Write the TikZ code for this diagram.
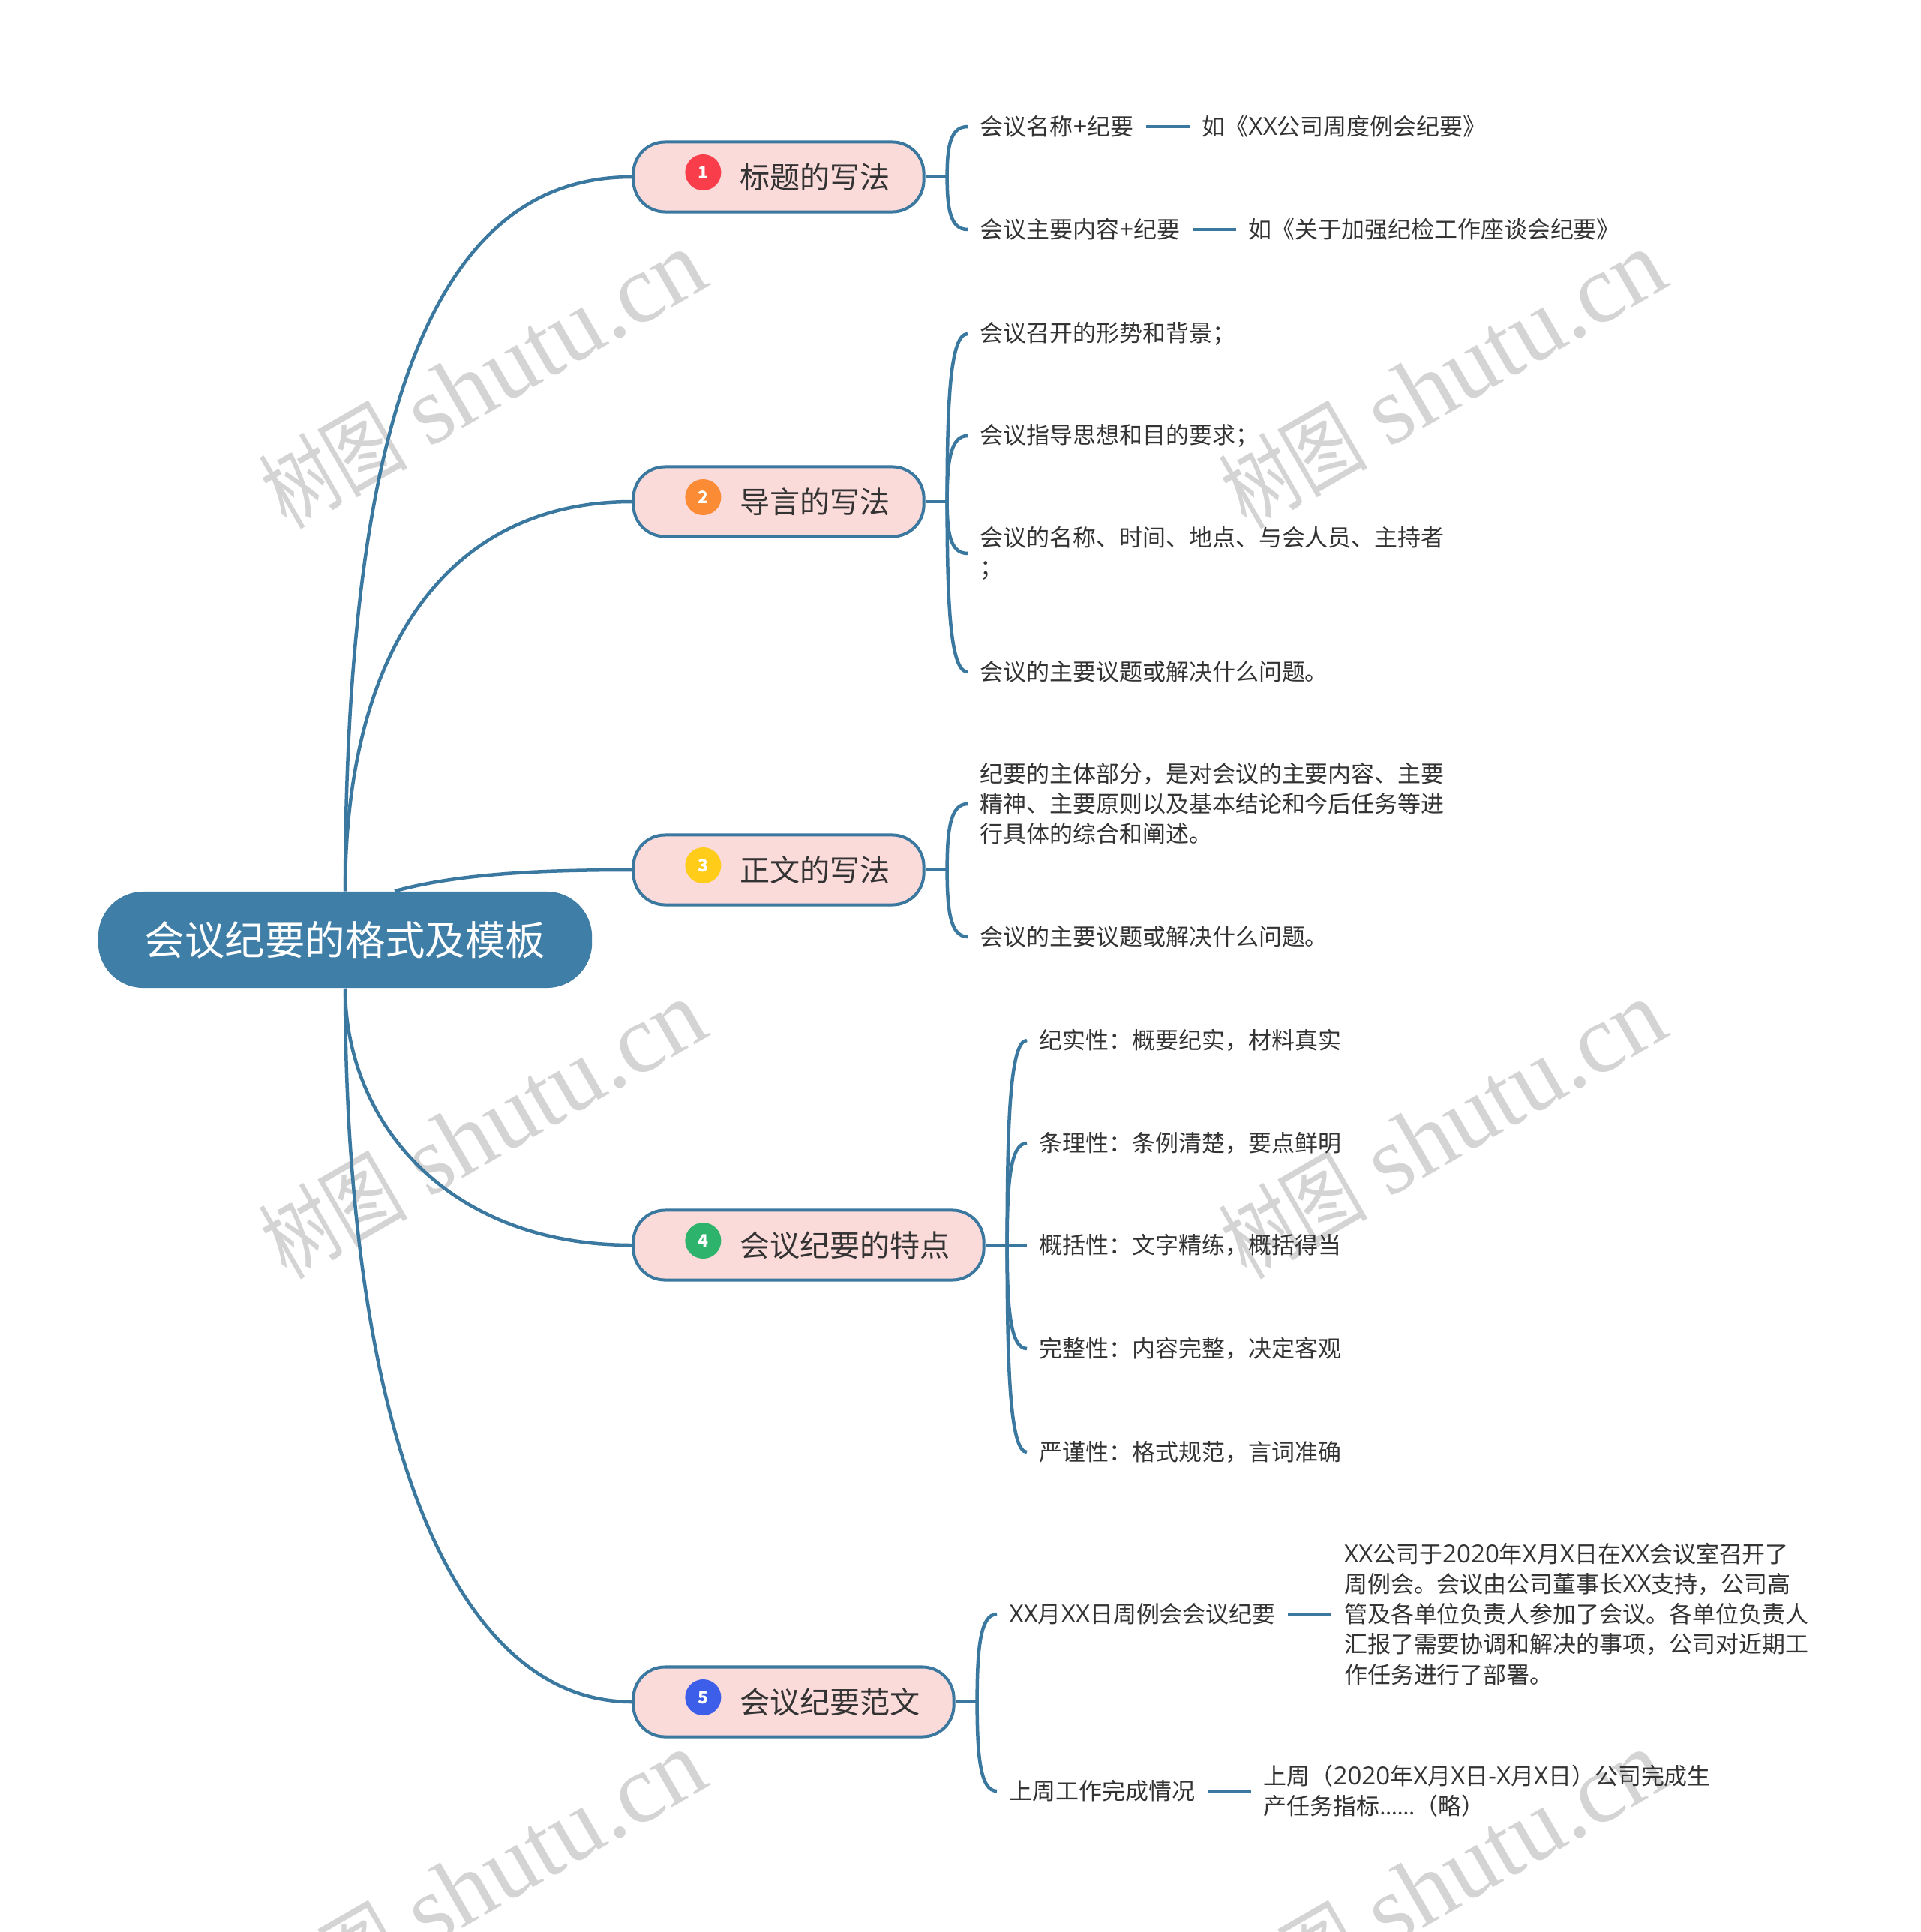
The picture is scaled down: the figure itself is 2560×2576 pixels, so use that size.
\documentclass[tikz,border=0pt]{standalone}
\usepackage{fontspec}
\usepackage{xcolor}
\usetikzlibrary{positioning,calc}
\setmainfont{Noto Sans CJK SC}
\newfontfamily\wmfont{Liberation Serif}
\newfontfamily\latf[Scale=1.07]{Open Sans}
\newfontfamily\dotf{Carlito}
\newcommand{\lat}[1]{{\latf #1}}
\definecolor{linkblue}{HTML}{3B789F}
\definecolor{rootblue}{HTML}{3F7EA6}
\definecolor{pink}{HTML}{FBDADA}
\definecolor{ink}{HTML}{333333}

\begin{document}
\begin{tikzpicture}[
  x=0.01cm, y=-0.01cm,
  root/.style={fill=rootblue, rounded corners=0.6cm, minimum width=6.58cm, minimum height=1.28cm,
               text=white, font=\fontsize{15.2pt}{20pt}\selectfont},
  branch/.style={draw=linkblue, fill=pink, line width=0.04cm, rounded corners=0.42cm, minimum height=0.93cm},
  btext/.style={inner sep=0pt, text=ink, font=\fontsize{11.4pt}{14pt}\selectfont},
  badge/.style={circle, minimum size=0.48cm, inner sep=0pt, text=white, font=\fontsize{6.5pt}{7pt}\selectfont\bfseries},
  leaf/.style={inner xsep=0.16cm, inner ysep=0pt, align=left, text=ink, font=\fontsize{8.8pt}{11.4pt}\selectfont},
  link/.style={draw=linkblue, line width=0.045cm},
  bracket/.style={to path={.. controls ($(\tikztostart)!0.6!(\tikztostart |- \tikztotarget)$)
                  and ($(\tikztostart |- \tikztotarget)!0.15!(\tikztotarget)$) .. (\tikztotarget)}},
  wmark/.style={rotate=30, text=black!17, font=\fontsize{37pt}{40pt}\selectfont}
]
  \clip (0,0) rectangle (2560,2576);

  % watermark
  \foreach \wx in {644,1924}
    \foreach \wy in {503,1503,2503}
      \node[wmark] (wm\wx\wy) at (\wx,\wy) {\scalebox{0.72}[0.92]{树图} {\wmfont shutu.cn}};

  \node[root] (root) at (460,1253) {会议纪要的格式及模板};

  \node[branch, minimum width=3.87cm] (b1) at (1038,236)  {};
  \node[branch, minimum width=3.87cm] (b2) at (1038,669)  {};
  \node[branch, minimum width=3.87cm] (b3) at (1038,1160) {};
  \node[branch, minimum width=4.67cm] (b4) at (1078,1660) {};
  \node[branch, minimum width=4.27cm] (b5) at (1058,2269) {};

  \node[badge, fill={rgb,255:red,249;green,61;blue,75}]  (i1) at ([shift={(95,-6)}]b1.west) {1};
  \node[badge, fill={rgb,255:red,251;green,140;blue,53}] (i2) at ([shift={(95,-6)}]b2.west) {2};
  \node[badge, fill={rgb,255:red,255;green,204;blue,26}] (i3) at ([shift={(95,-6)}]b3.west) {3};
  \node[badge, fill={rgb,255:red,45;green,179;blue,107}] (i4) at ([shift={(95,-6)}]b4.west) {4};
  \node[badge, fill={rgb,255:red,61;green,94;blue,232}]  (i5) at ([shift={(95,-6)}]b5.west) {5};

  \node[btext, right=1.43cm of b1.west] (t1) {标题的写法};
  \node[btext, right=1.43cm of b2.west] (t2) {导言的写法};
  \node[btext, right=1.43cm of b3.west] (t3) {正文的写法};
  \node[btext, right=1.43cm of b4.west] (t4) {会议纪要的特点};
  \node[btext, right=1.43cm of b5.west] (t5) {会议纪要范文};

  % root to branches
  \draw[link] (root.north) .. controls (461,500) and (600,236) .. (b1.west);
  \draw[link] (root.north) .. controls (461,860) and (600,669) .. (b2.west);
  \draw[link] ([xshift=0.66cm]root.north) .. controls (610,1165) and (720,1160) .. (b3.west);
  \draw[link] (root.south) .. controls (461,1500) and (600,1660) .. (b4.west);
  \draw[link] (root.south) .. controls (461,1900) and (600,2269) .. (b5.west);

  % hubs
  \coordinate (h1) at ([xshift=0.29cm]b1.east);
  \coordinate (h2) at ([xshift=0.29cm]b2.east);
  \coordinate (h3) at ([xshift=0.29cm]b3.east);
  \coordinate (h4) at ([xshift=0.29cm]b4.east);
  \coordinate (h5) at ([xshift=0.29cm]b5.east);
  \foreach \n in {1,...,5}
    \draw[link] (b\n.east) -- (h\n);

  % first branch
  \node[leaf, anchor=west] (a1) at (1290,169) {会议名称\lat{+}纪要};
  \node[leaf, anchor=west] (a2) at (1290,306) {会议主要内容\lat{+}纪要};
  \node[leaf, right=0.58cm of a1] (a1x) {如《\lat{XX}公司周度例会纪要》};
  \node[leaf, right=0.58cm of a2] (a2x) {如《关于加强纪检工作座谈会纪要》};
  \draw[link, bracket] (h1) to (a1.west);
  \draw[link, bracket] (h1) to (a2.west);
  \draw[link] (a1) -- (a1x);
  \draw[link] (a2) -- (a2x);

  % second branch
  \node[leaf, anchor=west] (c1) at (1290,445) {会议召开的形势和背景；};
  \node[leaf, anchor=west] (c2) at (1290,581) {会议指导思想和目的要求；};
  \node[leaf, anchor=west] (c3) at (1290,738) {会议的名称、时间、地点、与会人员、主持者\\；};
  \node[leaf, anchor=west] (c4) at (1290,896) {会议的主要议题或解决什么问题。};
  \draw[link, bracket] (h2) to (c1.west);
  \draw[link, bracket] (h2) to (c2.west);
  \draw[link, bracket] (h2) to (c3.west);
  \draw[link, bracket] (h2) to (c4.west);

  % third branch
  \node[leaf, anchor=west] (d1) at (1290,1072) {纪要的主体部分，是对会议的主要内容、主要\\精神、主要原则以及基本结论和今后任务等进\\行具体的综合和阐述。};
  \node[leaf, anchor=west] (d2) at (1290,1249) {会议的主要议题或解决什么问题。};
  \draw[link, bracket] (h3) to (d1.west);
  \draw[link, bracket] (h3) to (d2.west);

  % fourth branch
  \node[leaf, anchor=west] (e1) at (1369,1387) {纪实性：概要纪实，材料真实};
  \node[leaf, anchor=west] (e2) at (1369,1524) {条理性：条例清楚，要点鲜明};
  \node[leaf, anchor=west] (e3) at (1369,1660) {概括性：文字精练，概括得当};
  \node[leaf, anchor=west] (e4) at (1369,1798) {完整性：内容完整，决定客观};
  \node[leaf, anchor=west] (e5) at (1369,1936) {严谨性：格式规范，言词准确};
  \draw[link, bracket] (h4) to (e1.west);
  \draw[link, bracket] (h4) to (e2.west);
  \draw[link] (h4) -- (e3.west);
  \draw[link, bracket] (h4) to (e4.west);
  \draw[link, bracket] (h4) to (e5.west);

  % fifth branch
  \node[leaf, anchor=west] (f1) at (1329,2152) {\lat{XX}月\lat{XX}日周例会会议纪要};
  \node[leaf, anchor=west] (f2) at (1329,2388) {上周工作完成情况};
  \node[leaf, right=0.58cm of f1] (f1x) {\lat{XX}公司于\lat{2020}年\lat{X}月\lat{X}日在\lat{XX}会议室召开了\\周例会。会议由公司董事长\lat{XX}支持，公司高\\管及各单位负责人参加了会议。各单位负责人\\汇报了需要协调和解决的事项，公司对近期工\\作任务进行了部署。};
  \node[leaf, right=0.58cm of f2] (f2x) {上周（\lat{2020}年\lat{X}月\lat{X}日\lat{-X}月\lat{X}日）公司完成生\\产任务指标{\dotf ......}（略）};
  \draw[link, bracket] (h5) to (f1.west);
  \draw[link, bracket] (h5) to (f2.west);
  \draw[link] (f1) -- (f1x);
  \draw[link] (f2) -- (f2x);
\end{tikzpicture}
\end{document}
